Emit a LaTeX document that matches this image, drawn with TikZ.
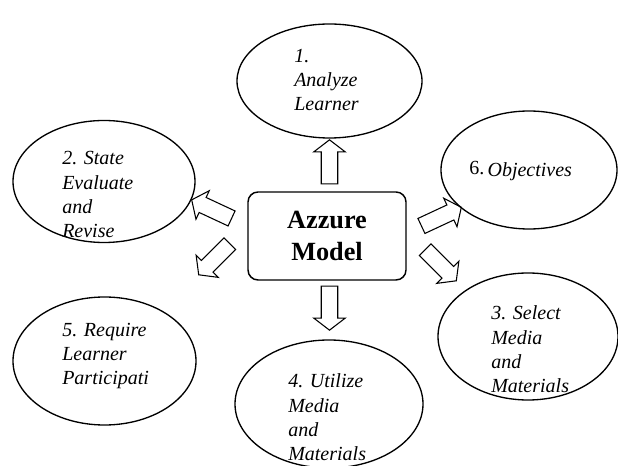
\documentclass[tikz,border=0pt]{standalone}
\usepackage{fontspec}
\setmainfont{Liberation Serif}
\usetikzlibrary{shapes.geometric,shapes.arrows}
\begin{document}
\begin{tikzpicture}[x=0.75pt, y=-0.75pt,
  oval/.style={draw,ellipse,line width=1pt,inner sep=0pt},
  steptext/.style={anchor=base west,inner sep=0pt,align=left,font=\fontsize{15}{18.3}\selectfont\itshape},
  barrow/.style={draw,single arrow,line width=0.8pt,inner xsep=0pt,inner ysep=5.8pt,minimum height=33pt,
    single arrow head extend=5.6pt,single arrow tip angle=105}]
\useasboundingbox (0,0) rectangle (618,466);
% centre box
\node[draw,rounded corners=7.5pt,line width=1.1pt,minimum width=118.5pt,minimum height=66pt,align=center,
  font=\fontsize{19.7}{24}\selectfont\bfseries] (model) at (327,236) {Azzure\\Model};
% the six steps
\node[oval,minimum width=138.75pt,minimum height=85.5pt] (analyze) at (329.5,81) {};
\node[oval,minimum width=136.5pt,minimum height=91.5pt] (state) at (104,181.5) {};
\node[oval,minimum width=132pt,minimum height=88.5pt] (objectives) at (529,170) {};
\node[oval,minimum width=135pt,minimum height=95.25pt] (select) at (528,336.5) {};
\node[oval,minimum width=141pt,minimum height=96pt] (utilize) at (329,404) {};
\node[oval,minimum width=137.25pt,minimum height=96pt] (require) at (104.5,361) {};
% texts, placed by the baseline of their last line
\node[steptext] (t1) at (294,111) {1.\\Analyze\\Learner};
\node[steptext] (t2) at (62,238) {2. State\\Evaluate\\and\\Revise};
\node[steptext] (t6) at (469,177) {\raisebox{2pt}{\upshape 6.}\,Objectives};
\node[steptext] (t3) at (491,393) {3. Select\\Media\\and\\Materials};
\node[steptext] (t4) at (288,461) {4. Utilize\\Media\\and\\Materials};
\node[steptext] (t5) at (62,385) {5. Require\\Learner\\Participati};
% block arrows out of the box
\node[barrow,rotate=90] (aup) at (329.5,165) {};
\node[barrow,rotate=-90] (adown) at (329.5,305) {};
\node[barrow,rotate=155] (aul) at (214.5,210.5) {};
\node[barrow,rotate=-135] (all) at (216.5,257) {};
\node[barrow,rotate=25] (aur) at (438.5,218) {};
\node[barrow,rotate=-45] (alr) at (438.5,263) {};
\end{tikzpicture}
\end{document}
